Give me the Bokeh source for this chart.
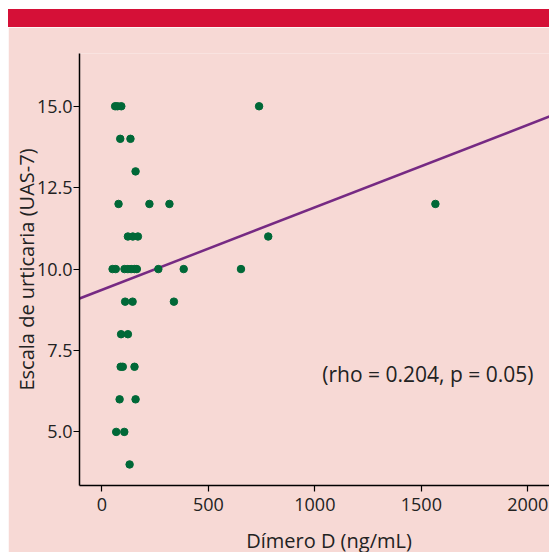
from bokeh.plotting import figure
from bokeh.models import Label, FixedTicker, NumeralTickFormatter, Range1d, ColumnDataSource, Div, Spacer
from bokeh.layouts import column, row
from bokeh.embed import file_html
from bokeh.resources import INLINE

# Data
dimero_d = [62, 73, 91, 738,
            86, 134,
            158,
            78, 223, 317, 1566,
            122, 145, 169, 781,
            50, 65, 106, 122, 137, 153, 164, 265, 384, 653,
            109, 144, 338,
            90, 122,
            88, 98, 153,
            83, 158,
            67, 105,
            130]
uas7 = [15, 15, 15, 15,
        14, 14,
        13,
        12, 12, 12, 12,
        11, 11, 11, 11,
        10, 10, 10, 10, 10, 10, 10, 10, 10, 10,
        9, 9, 9,
        8, 8,
        7, 7, 7,
        6, 6,
        5, 5,
        4]
fit_x = [-105, 2238]
fit_y = [9.096, 15.03]
x_ticks = [0, 500, 1000, 1500, 2000]
y_ticks = [5.0, 7.5, 10.0, 12.5, 15.0]
annotation = "(rho = 0.204, p = 0.05)"

BG = "#F7D9D5"
RED = "#D51037"
GREEN = "#006837"
PURPLE = "#762A83"
TXT = "#222222"
FONT = "Open Sans"

p = figure(frame_width=499, frame_height=432,
           x_range=Range1d(-105.3, 2238), y_range=Range1d(3.354, 16.62),
           output_backend="svg", toolbar_location=None,
           min_border_left=71, min_border_top=26, min_border_right=0, min_border_bottom=70,
           margin=0)
p.background_fill_color = BG
p.border_fill_color = BG
p.outline_line_color = None
p.xgrid.visible = False
p.ygrid.visible = False

p.line(fit_x, fit_y, line_color=PURPLE, line_width=2.5)
src = ColumnDataSource(dict(x=dimero_d, y=uas7))
p.scatter("x", "y", source=src, size=7.5, fill_color=GREEN, line_color=GREEN)

p.add_layout(Label(x=1035, y=6.77, text=annotation, text_align="left", text_baseline="middle",
                   text_font=FONT, text_font_size="21px", text_color=TXT))

for ax in (p.xaxis[0], p.yaxis[0]):
    ax.axis_line_color = "black"
    ax.axis_line_width = 1.5
    ax.major_tick_line_color = "black"
    ax.major_tick_line_width = 1.2
    ax.major_tick_out = 6
    ax.major_tick_in = 0
    ax.minor_tick_line_color = None
    ax.major_label_text_font = FONT
    ax.major_label_text_font_size = "18px"
    ax.major_label_text_color = TXT
    ax.axis_label_text_font = FONT
    ax.axis_label_text_font_size = "20px"
    ax.axis_label_text_font_style = "normal"
    ax.axis_label_text_color = TXT

p.xaxis.ticker = FixedTicker(ticks=x_ticks)
p.yaxis.ticker = FixedTicker(ticks=y_ticks)
p.yaxis.formatter = NumeralTickFormatter(format="0.0")
p.xaxis.axis_label = "Dímero D (ng/mL)"
p.yaxis.axis_label = "Escala de urticaria (UAS-7)"
p.xaxis.major_label_standoff = 6
p.yaxis.major_label_standoff = 1
p.xaxis.axis_label_standoff = 13
p.yaxis.axis_label_standoff = -6

bar = Div(text="", width=570, height=18, margin=0, styles={"background-color": RED})
layout = row(Spacer(width=8, height=560, margin=0),
             column(Spacer(width=570, height=9, margin=0), bar, p, spacing=0, margin=0),
             spacing=0, margin=0)
open("out.html", "w").write(file_html(layout, INLINE))
